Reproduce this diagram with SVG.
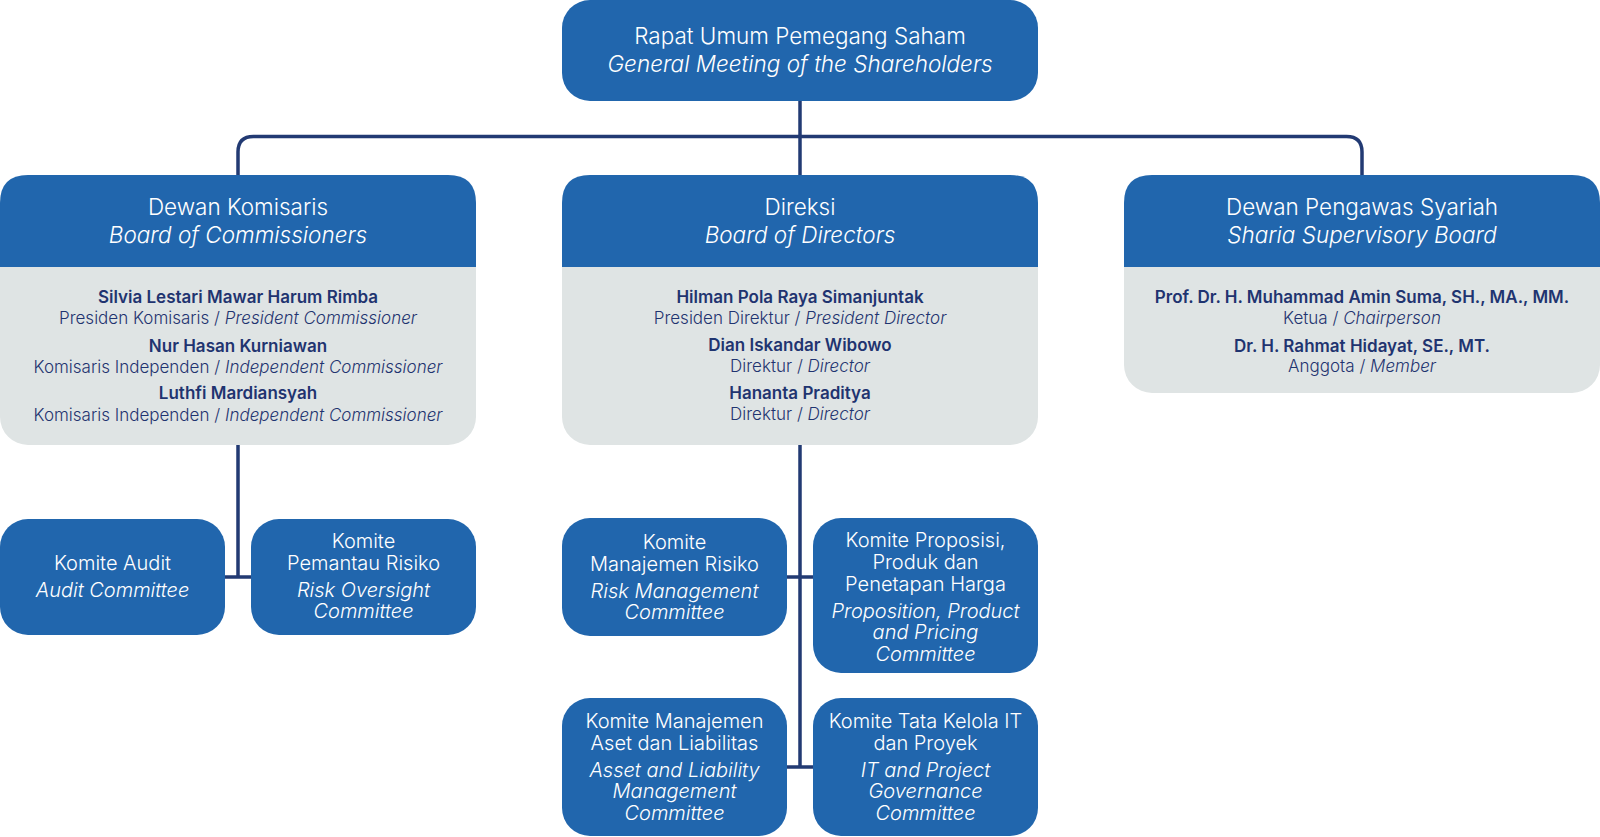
<svg xmlns="http://www.w3.org/2000/svg" width="1600" height="837" viewBox="0 0 1600 837">
<style>
.hdr{fill:#2166AD}
.body{fill:#DFE4E4}
.conn{fill:none;stroke:#223A73;stroke-width:3.5}
text{font-family:Inter,"Noto Sans","Liberation Sans",sans-serif;text-anchor:middle}
.w{fill:#FFFFFF;font-size:22.5px;font-weight:350}
.c{fill:#FFFFFF;font-size:20px;font-weight:350}
.i{font-style:italic}
.n{fill:#1F3470;font-size:17px;font-weight:600}
.r{fill:#1F3470;font-size:17px;font-weight:350}
</style>
<rect width="1600" height="837" fill="#FFFFFF"/>
<g id="connectors">
<path class="conn" d="M800,101 V175"/>
<path class="conn" d="M238,175 V152 Q238,136.5 253.5,136.5 H1346.5 Q1362,136.5 1362,152 V175"/>
<path class="conn" d="M238,445 V577 M225,577 H251"/>
<path class="conn" d="M800,445 V767 M787,577 H813 M787,767 H813"/>
</g>
<g id="rups">
<rect class="hdr" x="562" y="0" width="476" height="101" rx="28"/>
<text class="w" x="800" y="44">Rapat Umum Pemegang Saham</text>
<text class="w i" x="800" y="72">General Meeting of the Shareholders</text>
</g>
<g id="dewan-komisaris">
<rect class="body" x="0" y="175" width="476" height="270" rx="28"/>
<path class="hdr" d="M0,267 V203 Q0,175 28,175 H448 Q476,175 476,203 V267 Z"/>
<text class="w" x="238" y="215">Dewan Komisaris</text>
<text class="w i" x="238" y="243">Board of Commissioners</text>
<text class="n" x="238" y="303">Silvia Lestari Mawar Harum Rimba</text>
<text class="r" x="238" y="324">Presiden Komisaris / <tspan class="i">President Commissioner</tspan></text>
<text class="n" x="238" y="352">Nur Hasan Kurniawan</text>
<text class="r" x="238" y="373">Komisaris Independen / <tspan class="i">Independent Commissioner</tspan></text>
<text class="n" x="238" y="399">Luthfi Mardiansyah</text>
<text class="r" x="238" y="421">Komisaris Independen / <tspan class="i">Independent Commissioner</tspan></text>
</g>
<g id="direksi">
<rect class="body" x="562" y="175" width="476" height="270" rx="28"/>
<path class="hdr" d="M562,267 V203 Q562,175 590,175 H1010 Q1038,175 1038,203 V267 Z"/>
<text class="w" x="800" y="215">Direksi</text>
<text class="w i" x="800" y="243">Board of Directors</text>
<text class="n" x="800" y="303">Hilman Pola Raya Simanjuntak</text>
<text class="r" x="800" y="324">Presiden Direktur / <tspan class="i">President Director</tspan></text>
<text class="n" x="800" y="351">Dian Iskandar Wibowo</text>
<text class="r" x="800" y="372">Direktur / <tspan class="i">Director</tspan></text>
<text class="n" x="800" y="399">Hananta Praditya</text>
<text class="r" x="800" y="420">Direktur / <tspan class="i">Director</tspan></text>
</g>
<g id="dewan-pengawas-syariah">
<rect class="body" x="1124" y="175" width="476" height="218" rx="28"/>
<path class="hdr" d="M1124,267 V203 Q1124,175 1152,175 H1572 Q1600,175 1600,203 V267 Z"/>
<text class="w" x="1362" y="215">Dewan Pengawas Syariah</text>
<text class="w i" x="1362" y="243">Sharia Supervisory Board</text>
<text class="n" x="1362" y="303">Prof. Dr. H. Muhammad Amin Suma, SH., MA., MM.</text>
<text class="r" x="1362" y="324">Ketua / <tspan class="i">Chairperson</tspan></text>
<text class="n" x="1362" y="352">Dr. H. Rahmat Hidayat, SE., MT.</text>
<text class="r" x="1362" y="372">Anggota / <tspan class="i">Member</tspan></text>
</g>
<g id="komite-audit">
<rect class="hdr" x="0" y="519" width="225" height="116" rx="28"/>
<text class="c" x="112.5" y="570">Komite Audit</text>
<text class="c i" x="112.5" y="597">Audit Committee</text>
</g>
<g id="komite-pemantau-risiko">
<rect class="hdr" x="251" y="519" width="225" height="116" rx="28"/>
<text class="c" x="363.5" y="548">Komite</text>
<text class="c" x="363.5" y="570">Pemantau Risiko</text>
<text class="c i" x="363.5" y="597">Risk Oversight</text>
<text class="c i" x="363.5" y="618">Committee</text>
</g>
<g id="komite-manajemen-risiko">
<rect class="hdr" x="562" y="518" width="225" height="118" rx="28"/>
<text class="c" x="674.5" y="549">Komite</text>
<text class="c" x="674.5" y="571">Manajemen Risiko</text>
<text class="c i" x="674.5" y="598">Risk Management</text>
<text class="c i" x="674.5" y="619">Committee</text>
</g>
<g id="komite-proposisi">
<rect class="hdr" x="813" y="518" width="225" height="155" rx="28"/>
<text class="c" x="925.5" y="547">Komite Proposisi,</text>
<text class="c" x="925.5" y="569">Produk dan</text>
<text class="c" x="925.5" y="591">Penetapan Harga</text>
<text class="c i" x="925.5" y="618">Proposition, Product</text>
<text class="c i" x="925.5" y="639">and Pricing</text>
<text class="c i" x="925.5" y="661">Committee</text>
</g>
<g id="komite-alm">
<rect class="hdr" x="562" y="698" width="225" height="138" rx="28"/>
<text class="c" x="674.5" y="728">Komite Manajemen</text>
<text class="c" x="674.5" y="750">Aset dan Liabilitas</text>
<text class="c i" x="674.5" y="777">Asset and Liability</text>
<text class="c i" x="674.5" y="798">Management</text>
<text class="c i" x="674.5" y="820">Committee</text>
</g>
<g id="komite-tata-kelola-it">
<rect class="hdr" x="813" y="698" width="225" height="138" rx="28"/>
<text class="c" x="925.5" y="728">Komite Tata Kelola IT</text>
<text class="c" x="925.5" y="750">dan Proyek</text>
<text class="c i" x="925.5" y="777">IT and Project</text>
<text class="c i" x="925.5" y="798">Governance</text>
<text class="c i" x="925.5" y="820">Committee</text>
</g>
</svg>
